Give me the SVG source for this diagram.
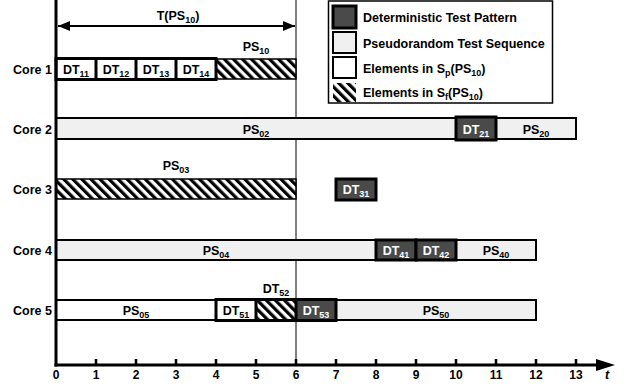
<svg xmlns="http://www.w3.org/2000/svg" width="627" height="388" viewBox="0 0 627 388">
  <defs>
    <pattern id="hatch" patternUnits="userSpaceOnUse" width="6.4" height="6.4" patternTransform="rotate(-45)">
      <rect width="6.4" height="6.4" fill="#fff"/>
      <rect width="3.2" height="6.4" fill="#000"/>
    </pattern>
    <marker id="head" viewBox="0 0 12 10" refX="12" refY="5" markerWidth="12" markerHeight="10" markerUnits="userSpaceOnUse" orient="auto-start-reverse">
      <path d="M0,0 L12,5 L0,10 Z" fill="#000"/>
    </marker>
  </defs>
  <style>
    text { font-family: "Liberation Sans", Arial, sans-serif; font-weight: bold; font-size: 12.5px; fill: #000; }
    .lbl { text-anchor: middle; }
    .inv { fill: #fff; }
    .core { text-anchor: end; }
    .tick { text-anchor: middle; font-size: 12px; }
    .sub { font-size: 9px; }
    .light { fill: #f0f0f0; stroke: #000; stroke-width: 2; }
    .white { fill: #fff; stroke: #000; stroke-width: 2; }
    .dark { fill: #4a4a4a; stroke: #000; stroke-width: 3; }
    .hatch { fill: url(#hatch); stroke: #000; stroke-width: 1.5; }
    .frame { fill: none; stroke: #000; stroke-width: 3; }
    .axis { stroke: #000; stroke-width: 3; fill: none; }
  </style>

  <!-- reference line at t = 6 -->
  <line x1="296" y1="0" x2="296" y2="365" stroke="#000" stroke-width="1"/>

  <!-- Core 1 -->
  <g id="core1">
    <text class="core" x="52" y="74">Core 1</text>
    <rect class="hatch" x="216" y="59" width="80" height="20"/>
    <text class="lbl" x="256" y="51">PS<tspan class="sub" dy="3">10</tspan></text>
    <g id="core1-dt">
      <rect class="white" x="56" y="59" width="160" height="20"/>
      <line x1="96" y1="59" x2="96" y2="79" stroke="#000" stroke-width="3"/>
      <line x1="136" y1="59" x2="136" y2="79" stroke="#000" stroke-width="3"/>
      <line x1="176" y1="59" x2="176" y2="79" stroke="#000" stroke-width="3"/>
      <rect class="frame" x="56" y="58.5" width="160" height="21"/>
      <text class="lbl" x="76" y="74">DT<tspan class="sub" dy="3">11</tspan></text>
      <text class="lbl" x="116" y="74">DT<tspan class="sub" dy="3">12</tspan></text>
      <text class="lbl" x="156" y="74">DT<tspan class="sub" dy="3">13</tspan></text>
      <text class="lbl" x="196" y="74">DT<tspan class="sub" dy="3">14</tspan></text>
    </g>
  </g>

  <!-- Core 2 -->
  <g id="core2">
    <text class="core" x="52" y="134">Core 2</text>
    <rect class="light" x="56" y="118" width="520" height="21"/>
    <text class="lbl" x="256" y="134">PS<tspan class="sub" dy="3">02</tspan></text>
    <rect class="dark" x="456" y="117" width="40" height="23"/>
    <text class="lbl inv" x="476" y="134">DT<tspan class="sub" dy="3">21</tspan></text>
    <text class="lbl" x="536" y="134">PS<tspan class="sub" dy="3">20</tspan></text>
  </g>

  <!-- Core 3 -->
  <g id="core3">
    <text class="core" x="52" y="194">Core 3</text>
    <rect class="hatch" x="56" y="179" width="240" height="20" stroke-width="2"/>
    <text class="lbl" x="176" y="170">PS<tspan class="sub" dy="3">03</tspan></text>
    <rect class="dark" x="336" y="179" width="40" height="21"/>
    <text class="lbl inv" x="356" y="194">DT<tspan class="sub" dy="3">31</tspan></text>
  </g>

  <!-- Core 4 -->
  <g id="core4">
    <text class="core" x="52" y="255">Core 4</text>
    <rect class="light" x="56" y="240" width="480" height="20"/>
    <text class="lbl" x="216" y="255">PS<tspan class="sub" dy="3">04</tspan></text>
    <rect class="dark" x="376" y="240" width="40" height="20"/>
    <rect class="dark" x="416" y="240" width="40" height="20"/>
    <text class="lbl inv" x="396" y="255">DT<tspan class="sub" dy="3">41</tspan></text>
    <text class="lbl inv" x="436" y="255">DT<tspan class="sub" dy="3">42</tspan></text>
    <text class="lbl" x="496" y="255">PS<tspan class="sub" dy="3">40</tspan></text>
  </g>

  <!-- Core 5 -->
  <g id="core5">
    <text class="core" x="52" y="315">Core 5</text>
    <rect class="white" x="56" y="300" width="160" height="20"/>
    <text class="lbl" x="136" y="315">PS<tspan class="sub" dy="3">05</tspan></text>
    <rect class="light" x="336" y="300" width="200" height="20"/>
    <text class="lbl" x="436" y="315">PS<tspan class="sub" dy="3">50</tspan></text>
    <rect x="256" y="300" width="40" height="20" fill="url(#hatch)"/>
    <rect x="216" y="300" width="40" height="20" fill="#fff"/>
    <rect x="296" y="300" width="40" height="20" fill="#4a4a4a"/>
    <line x1="256" y1="300" x2="256" y2="320" stroke="#000" stroke-width="3"/>
    <line x1="296" y1="300" x2="296" y2="320" stroke="#000" stroke-width="3"/>
    <rect class="frame" x="216" y="299.5" width="120" height="21"/>
    <text class="lbl" x="236" y="315">DT<tspan class="sub" dy="3">51</tspan></text>
    <text class="lbl" x="276" y="293">DT<tspan class="sub" dy="3">52</tspan></text>
    <text class="lbl inv" x="316" y="315">DT<tspan class="sub" dy="3">53</tspan></text>
  </g>

  <!-- axes, ticks and the T(PS10) span -->
  <g id="connectors">
    <line class="axis" x1="56" y1="0" x2="56" y2="366.5"/>
    <line class="axis" x1="54.5" y1="365" x2="600" y2="365"/>
    <polygon points="596,359 615,365 596,371" fill="#000"/>
    <g stroke="#000" stroke-width="2.5">
      <line x1="96" y1="359" x2="96" y2="365"/>
      <line x1="136" y1="359" x2="136" y2="365"/>
      <line x1="176" y1="359" x2="176" y2="365"/>
      <line x1="216" y1="359" x2="216" y2="365"/>
      <line x1="256" y1="359" x2="256" y2="365"/>
      <line x1="296" y1="359" x2="296" y2="365"/>
      <line x1="336" y1="359" x2="336" y2="365"/>
      <line x1="376" y1="359" x2="376" y2="365"/>
      <line x1="416" y1="359" x2="416" y2="365"/>
      <line x1="456" y1="359" x2="456" y2="365"/>
      <line x1="496" y1="359" x2="496" y2="365"/>
      <line x1="536" y1="359" x2="536" y2="365"/>
      <line x1="576" y1="359" x2="576" y2="365"/>
    </g>
    <line x1="58" y1="26" x2="295" y2="26" stroke="#000" stroke-width="2" marker-start="url(#head)" marker-end="url(#head)"/>
    <text class="lbl" x="178" y="20">T(PS<tspan class="sub" dy="3">10</tspan><tspan dy="-3">)</tspan></text>
  </g>

  <!-- time axis labels -->
  <g id="ticks">
    <text class="tick" x="56" y="379">0</text>
    <text class="tick" x="96" y="379">1</text>
    <text class="tick" x="136" y="379">2</text>
    <text class="tick" x="176" y="379">3</text>
    <text class="tick" x="216" y="379">4</text>
    <text class="tick" x="256" y="379">5</text>
    <text class="tick" x="296" y="379">6</text>
    <text class="tick" x="336" y="379">7</text>
    <text class="tick" x="376" y="379">8</text>
    <text class="tick" x="416" y="379">9</text>
    <text class="tick" x="456" y="379">10</text>
    <text class="tick" x="496" y="379">11</text>
    <text class="tick" x="536" y="379">12</text>
    <text class="tick" x="576" y="379">13</text>
    <text x="605" y="379" font-style="italic">t</text>
  </g>

  <!-- legend -->
  <g id="legend">
    <rect x="328.5" y="1" width="224" height="102" fill="#fff" stroke="#000" stroke-width="1.5"/>
    <rect class="dark" x="333" y="6" width="23" height="22"/>
    <rect class="light" x="333" y="32" width="23" height="21"/>
    <rect class="white" x="333" y="57" width="23" height="21"/>
    <rect x="333" y="83" width="23" height="19" fill="url(#hatch)"/>
    <text x="363" y="22">Deterministic Test Pattern</text>
    <text x="363" y="48">Pseudorandom Test Sequence</text>
    <text x="363" y="73">Elements in S<tspan class="sub" dy="3">p</tspan><tspan dy="-3">(PS</tspan><tspan class="sub" dy="3">10</tspan><tspan dy="-3">)</tspan></text>
    <text x="363" y="97">Elements in S<tspan class="sub" dy="3">f</tspan><tspan dy="-3">(PS</tspan><tspan class="sub" dy="3">10</tspan><tspan dy="-3">)</tspan></text>
  </g>
</svg>
